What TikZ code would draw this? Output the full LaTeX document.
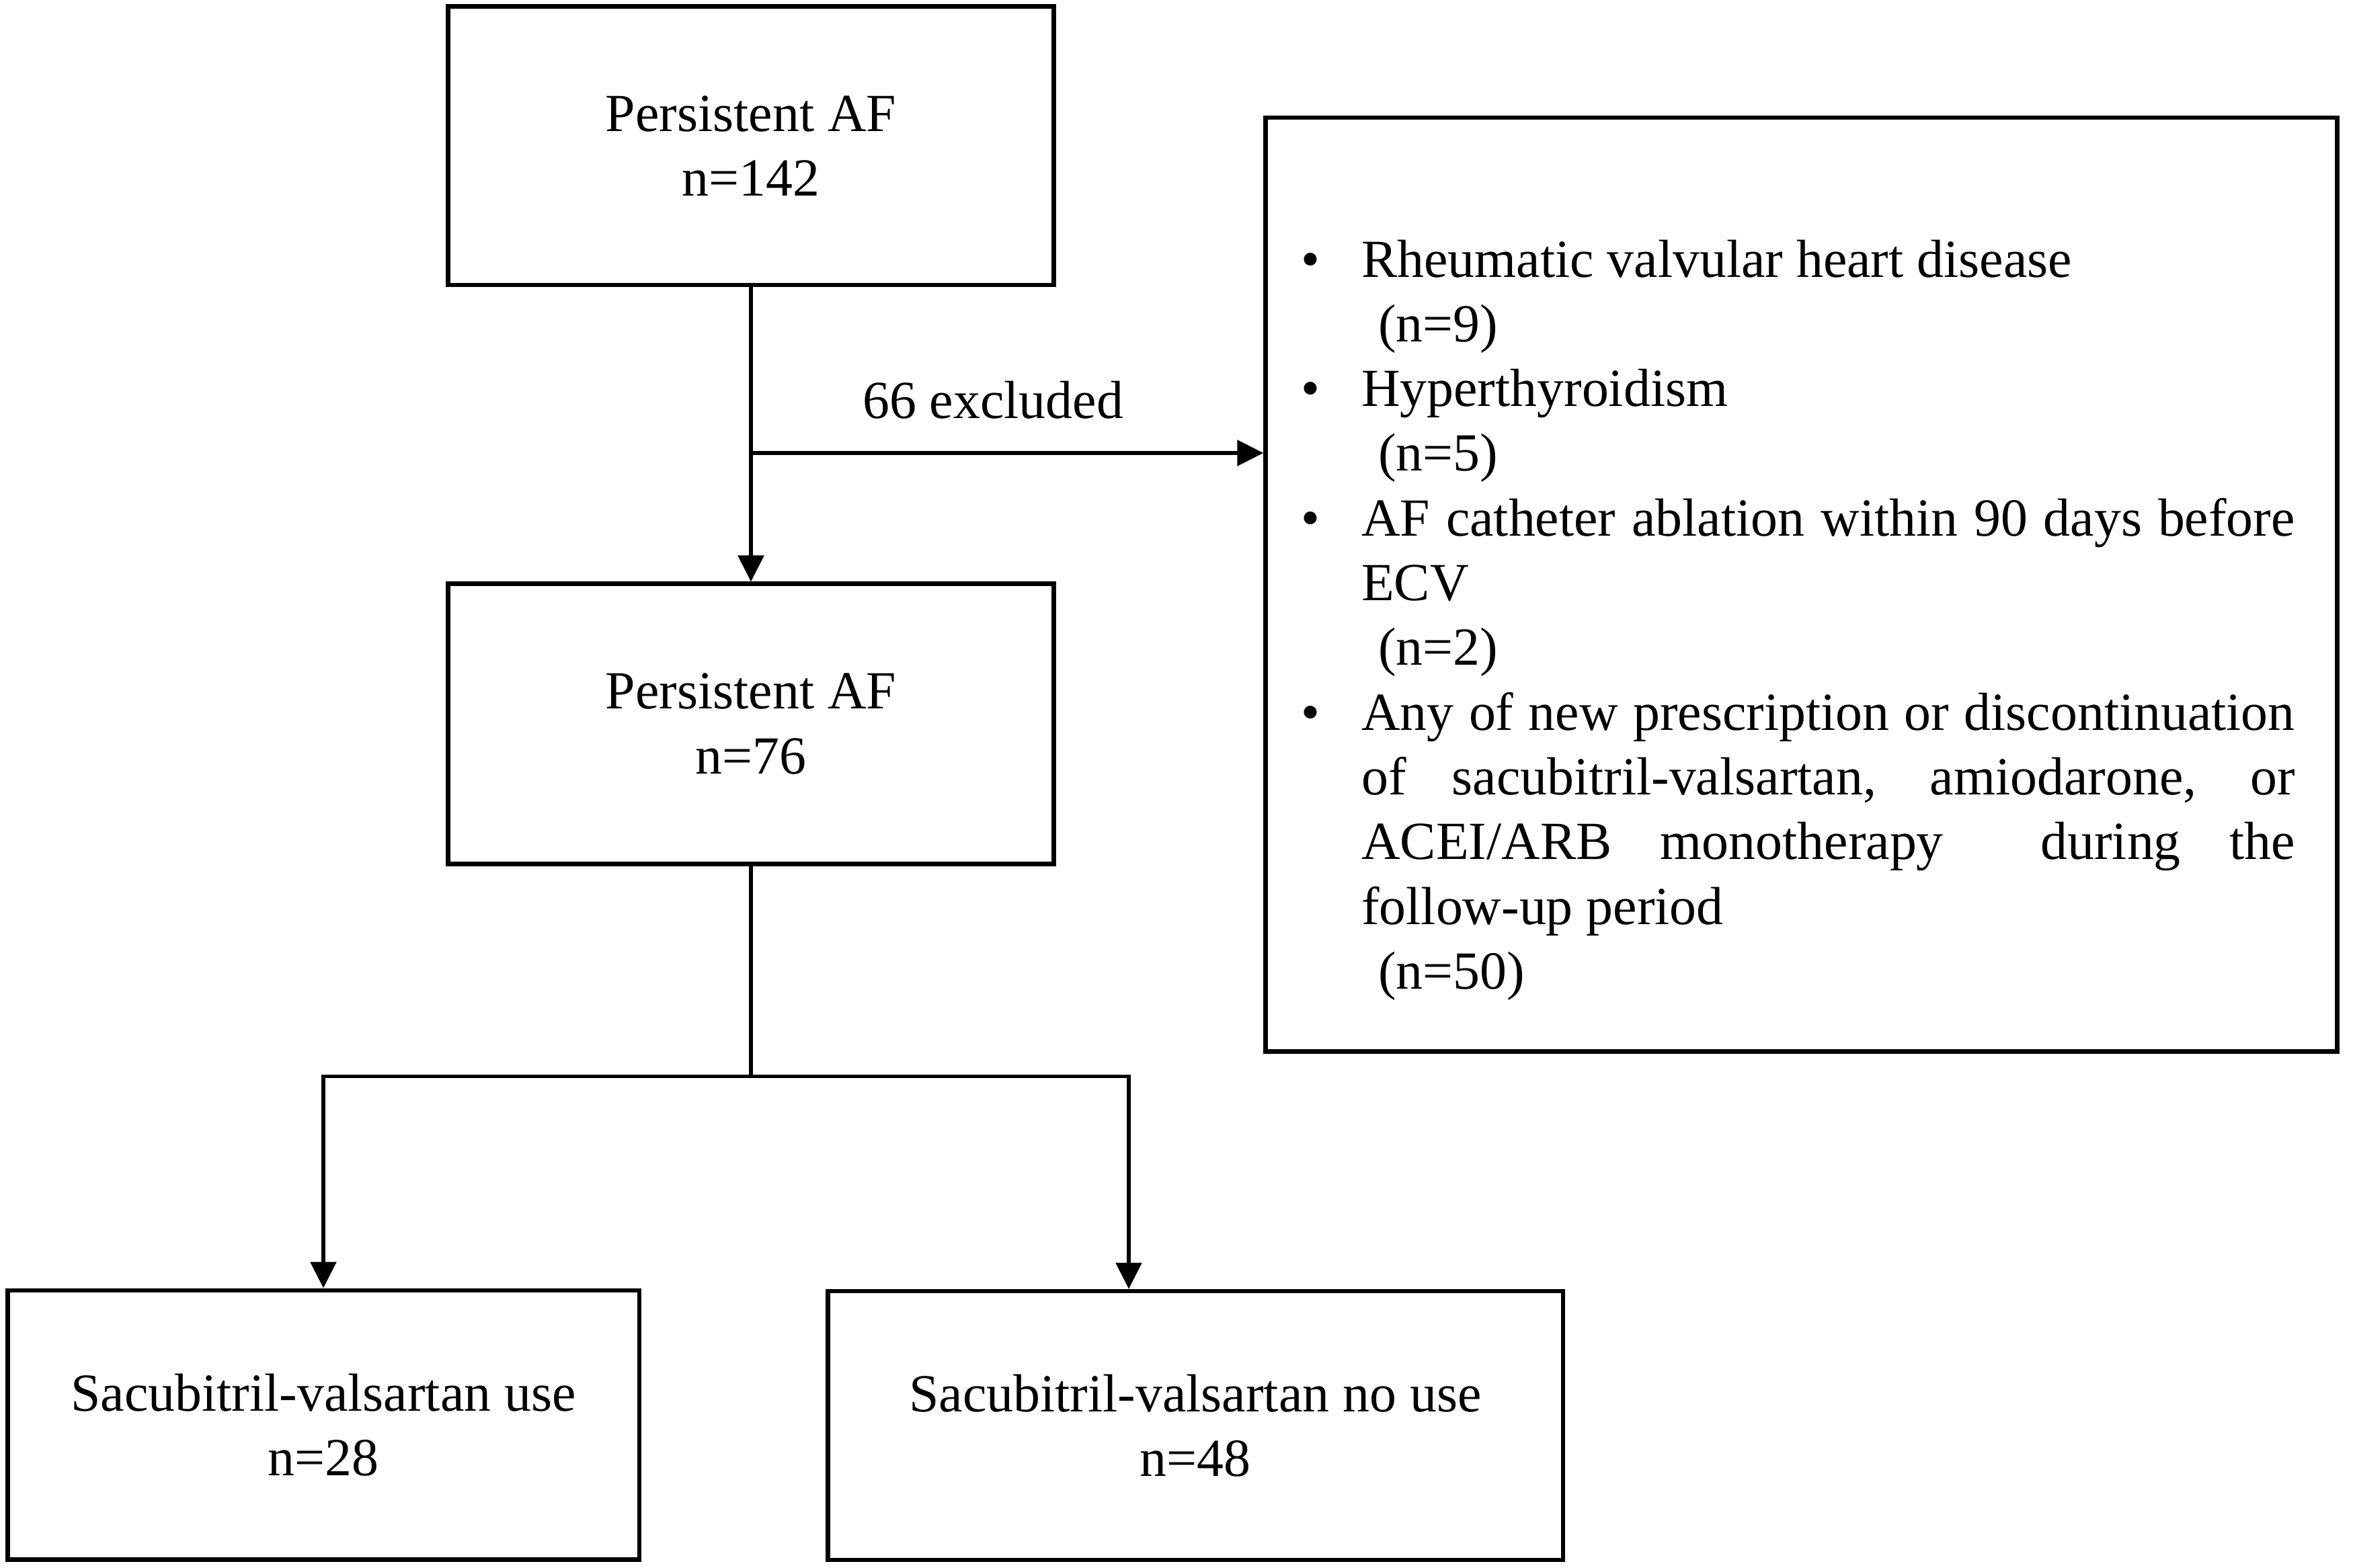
\documentclass[tikz,border=0pt]{standalone}
\usepackage{fontspec}
\setmainfont{Liberation Serif}
\usetikzlibrary{positioning,arrows.meta,calc}
\newcommand{\bodyfont}{\fontsize{22.7}{27.4}\selectfont}
% bullet lines of the exclusion list
\newcommand{\exitem}[1]{\makebox[0.895cm][l]{\textbullet}#1}
\newcommand{\exrest}[1]{\hspace*{0.895cm}#1}
\newcommand{\exjust}[1]{\makebox[13.885cm][s]{#1}}
\newcommand{\excount}[1]{\exrest{\hspace*{0.25cm}#1}}
\tikzset{
  >={Triangle[length=3.9mm,width=3.8mm]},
  box/.style={draw=black,line width=1.85pt,align=center,font=\bodyfont,inner sep=0pt},
  flow/.style={->,draw=black,line width=1.6pt},
  link/.style={draw=black,line width=1.6pt},
  lbl/.style={font=\bodyfont,inner sep=0pt},
  extext/.style={font=\bodyfont,align=left,inner sep=0pt},
}
\begin{document}
\begin{tikzpicture}[x=1cm,y=1cm]
  \useasboundingbox (0,0) rectangle (35,-23.33);
  % cohort boxes
  \node[box,minimum width=9.01cm,minimum height=4.145cm] (af142) at (11.17,-2.17) {Persistent AF\\n=142};
  \node[box,minimum width=9.01cm,minimum height=4.165cm] (af76) at (11.17,-10.77) {Persistent AF\\n=76};
  \node[box,minimum width=9.395cm,minimum height=4.005cm] (sacuse) at (4.81,-21.20) {Sacubitril-valsartan use\\n=28};
  \node[box,minimum width=10.935cm,minimum height=4.0cm] (sacnouse) at (17.78,-21.21) {Sacubitril-valsartan no use\\n=48};
  % exclusion box
  \node[box,minimum width=15.94cm,minimum height=13.895cm] (excl) at (26.795,-8.698) {};
  \node[extext,anchor=north west] (exclist) at (19.35,-3.56) {%
    \exitem{Rheumatic valvular heart disease}\\
    \excount{(n=9)}\\
    \exitem{Hyperthyroidism}\\
    \excount{(n=5)}\\
    \exitem{\exjust{AF catheter ablation within 90 days before}}\\
    \exrest{ECV}\\
    \excount{(n=2)}\\
    \exitem{\exjust{Any of new prescription or discontinuation}}\\
    \exrest{\exjust{of sacubitril-valsartan, amiodarone, or}}\\
    \exrest{\exjust{ACEI/ARB monotherapy\ \ during the}}\\
    \exrest{follow-up period}\\
    \excount{(n=50)}};
  % connectors
  \draw[flow] (af142.south) -- (af76.north);
  \coordinate (split) at (af142.south |- 0,-6.74);
  \draw[flow] (split) -- (split -| excl.west);
  \node[lbl,anchor=base] (exlbl) at (14.77,-6.23) {66 excluded};
  \coordinate (fork) at (af76.south |- 0,-16.015);
  \draw[link] (af76.south) -- (fork);
  \draw[flow] (fork) -| (sacuse.north);
  \draw[flow] (fork) -| ([xshift=-0.99cm]sacnouse.north);
\end{tikzpicture}
\end{document}
